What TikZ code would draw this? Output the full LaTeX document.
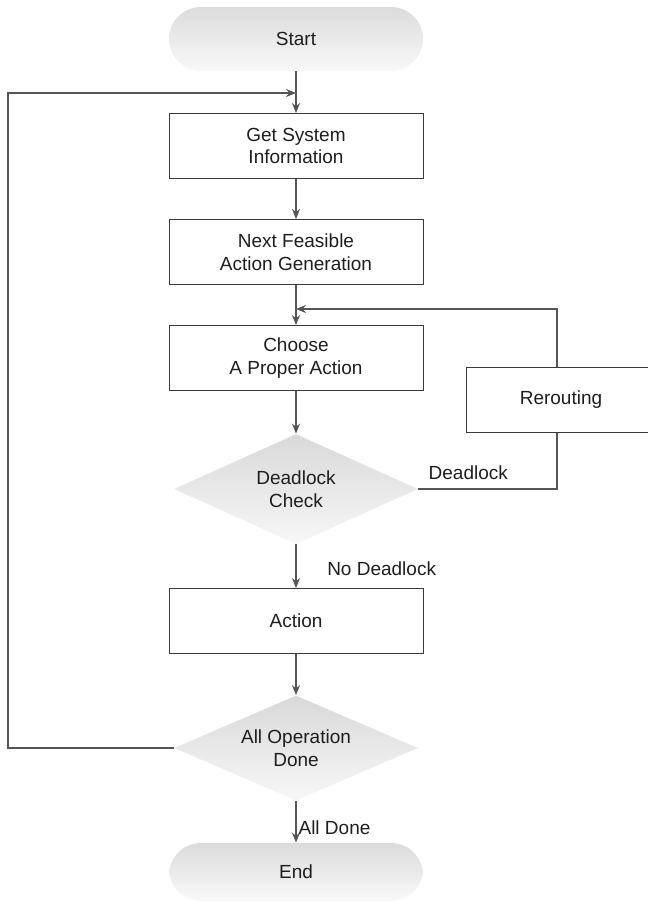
\documentclass[tikz,border=0pt]{standalone}
\usepackage{fontspec}
\setmainfont{Liberation Sans}
\usetikzlibrary{shapes.geometric,arrows.meta}

\definecolor{linegray}{HTML}{555555}
\definecolor{boxgray}{HTML}{3A3A3A}
\definecolor{textgray}{HTML}{1E1E1E}

\begin{document}
\begin{tikzpicture}[x=0.5pt,y=-0.5pt,
    every node/.style={font=\fontsize{9.5}{11.3}\selectfont,text=textgray,align=center},
    procbox/.style={draw=boxgray,line width=0.5pt,minimum width=127pt,minimum height=32.5pt,inner sep=0pt},
    terminal/.style={rounded corners=16pt,minimum width=127pt,minimum height=32pt,inner sep=0pt,
        top color=gray!28,bottom color=gray!5},
    decide/.style={diamond,aspect=2.3,minimum width=122pt,minimum height=55pt,inner sep=0pt,
        top color=gray!30,bottom color=gray!6},
    flow/.style={draw=linegray,line width=0.6pt,-{Stealth[length=5pt,width=4pt]}},
    line/.style={draw=linegray,line width=0.6pt}]
    \useasboundingbox (0,0) rectangle (648,902);

    \node[terminal] (start) at (296,39) {Start};
    \node[procbox] (getinfo) at (296,146) {Get System\\Information};
    \node[procbox] (nextgen) at (296,252) {Next Feasible\\Action Generation};
    \node[procbox] (choose) at (296,358) {Choose\\A Proper Action};
    \node[procbox,minimum width=95pt] (reroute) at (561,400) {Rerouting};
    \node[decide] (dlcheck) at (296,489) {Deadlock\\Check};
    \node[procbox] (action) at (296,621) {Action};
    \node[decide,minimum height=52.5pt] (alldone) at (296,748) {All Operation\\Done};
    \node[terminal,minimum height=29pt] (finish) at (296,872) {End};

    \coordinate (loopin) at (296,93);
    \coordinate (loopbl) at (8,748);
    \coordinate (looptl) at (8,93);
    \coordinate (rerin) at (296,309);
    \coordinate (rertop) at (557,309);
    \coordinate (rerbot) at (557,489);

    % main line
    \draw[flow] (start) -- (getinfo);
    \draw[flow] (getinfo) -- (nextgen);
    \draw[flow] (nextgen) -- (choose);
    \draw[flow] (choose) -- (dlcheck);
    \draw[flow] (dlcheck) -- node[right,xshift=12pt,yshift=-1pt] {No Deadlock} (action);
    \draw[flow] (action) -- (alldone);
    \draw[flow] (alldone) -- node[right,inner sep=1pt,yshift=-3pt] {All Done} (finish);

    % deadlock loop
    \draw[line] (dlcheck.east) -- node[above,pos=0.36,yshift=1pt] {Deadlock} (rerbot) -- (reroute.south -| rerbot);
    \draw[flow] (reroute.north -| rertop) -- (rertop) -- (rerin);

    % back to start
    \draw[flow] (alldone.west) -- (loopbl) -- (looptl) -- (loopin);
\end{tikzpicture}
\end{document}
